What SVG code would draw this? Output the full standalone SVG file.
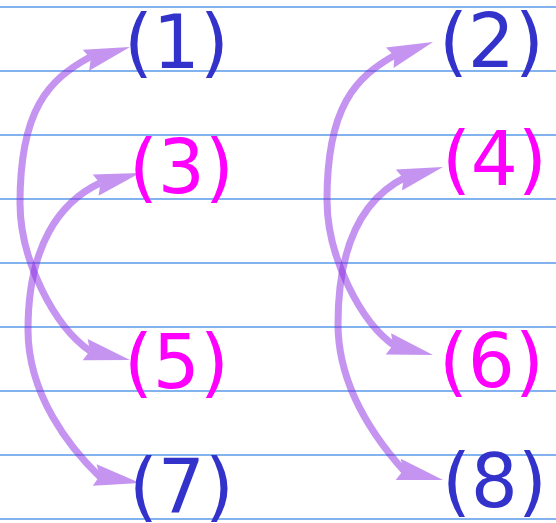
<svg xmlns="http://www.w3.org/2000/svg" xmlns:xlink="http://www.w3.org/1999/xlink" width="556" height="523" viewBox="0 0 556 523">
<style>
.rule{stroke:#5a9ae8;stroke-width:1.5;fill:none}
.arc{fill:none;stroke:#8a2be2;stroke-width:7;stroke-linecap:butt}
.hd{fill:#8a2be2}
.lbl{font-family:"DejaVu Sans",sans-serif;font-size:74px}
.b{fill:#3333cc}
.m{fill:#ff00ff}
</style>
<defs>
<path id="head" d="M0,0 L-46,-11 L-41,0 L-46,11 Z"/>
</defs>
<rect width="556" height="523" fill="#ffffff"/>
<g id="rules">
<line class="rule" x1="0" y1="7" x2="556" y2="7"/>
<line class="rule" x1="0" y1="71" x2="556" y2="71"/>
<line class="rule" x1="0" y1="135" x2="556" y2="135"/>
<line class="rule" x1="0" y1="199" x2="556" y2="199"/>
<line class="rule" x1="0" y1="263" x2="556" y2="263"/>
<line class="rule" x1="0" y1="327" x2="556" y2="327"/>
<line class="rule" x1="0" y1="391" x2="556" y2="391"/>
<line class="rule" x1="0" y1="455" x2="556" y2="455"/>
<line class="rule" x1="0" y1="519" x2="556" y2="519"/>
</g>
<g id="connectors">
<g opacity="0.5">
<path class="arc" d="M90,57 C48,80 20,110 20,203 C20,260 54,326 90,351"/>
<use xlink:href="#head" class="hd" transform="translate(130,47) rotate(-16.8)"/>
<use xlink:href="#head" class="hd" transform="translate(130,360) rotate(13)"/>
</g>
<g opacity="0.5">
<path class="arc" d="M100,183 C60,202 28,245 28,330 C28,395 70,448 100,477"/>
<use xlink:href="#head" class="hd" transform="translate(140,173) rotate(-15.3)"/>
<use xlink:href="#head" class="hd" transform="translate(140,483) rotate(10)"/>
</g>
<g opacity="0.5">
<path class="arc" d="M397,54 C355,77 327,107 327,200 C327,257 361,323 395,346"/>
<use xlink:href="#head" class="hd" transform="translate(433,42) rotate(-20)"/>
<use xlink:href="#head" class="hd" transform="translate(433,355) rotate(14)"/>
</g>
<g opacity="0.5">
<path class="arc" d="M406,177 C367,196 338,239 338,324 C338,389 378,442 405,472"/>
<use xlink:href="#head" class="hd" transform="translate(443,167) rotate(-16.4)"/>
<use xlink:href="#head" class="hd" transform="translate(443,480) rotate(13.4)"/>
</g>
</g>
<g id="n1"><text class="lbl b" x="124" y="68">(1)</text></g>
<g id="n2"><text class="lbl b" x="439" y="67">(2)</text></g>
<g id="n3"><text class="lbl m" x="129" y="193">(3)</text></g>
<g id="n4"><text class="lbl m" x="442" y="185">(4)</text></g>
<g id="n5"><text class="lbl m" x="124" y="388">(5)</text></g>
<g id="n6"><text class="lbl m" x="439" y="387">(6)</text></g>
<g id="n7"><text class="lbl b" x="129" y="512">(7)</text></g>
<g id="n8"><text class="lbl b" x="442" y="507">(8)</text></g>
</svg>
